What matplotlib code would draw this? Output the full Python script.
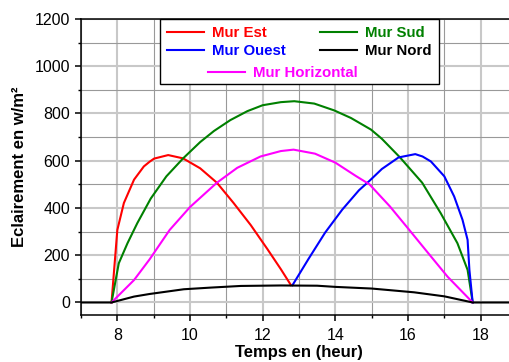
import numpy as np
import matplotlib
matplotlib.use("Agg")
import matplotlib.pyplot as plt
from matplotlib.lines import Line2D
from matplotlib.ticker import MultipleLocator

plt.rcParams['font.family'] = ['Liberation Sans', 'DejaVu Sans']
plt.rcParams['lines.solid_joinstyle'] = 'round'

# Mur Est (matin)
t_est = [7.84, 8.0, 8.18, 8.46, 8.73, 8.89, 9.01, 9.4, 9.81, 10.28, 10.74,
         11.2, 11.67, 12.13, 12.5, 12.78]
v_est = [0, 307, 421, 520, 576, 596, 609, 624, 610, 568, 507,
         421, 328, 226, 141, 73]

# Mur Ouest (après-midi)
t_ouest = [12.82, 13.26, 13.72, 14.19, 14.65, 14.94, 15.28, 15.74, 16.2, 16.4,
           16.63, 17.0, 17.27, 17.5, 17.64, 17.69, 17.78]
v_ouest = [73, 184, 296, 393, 475, 515, 565, 614, 628, 618,
           597, 534, 449, 350, 265, 138, 0]

# Mur Sud
t_sud = [7.84, 8.04, 8.28, 8.55, 8.92, 9.35, 9.81, 10.28, 10.66, 11.11, 11.58,
         12.0, 12.5, 12.87, 13.42, 13.97, 14.43, 14.98, 15.28, 15.78, 16.39,
         16.9, 17.36, 17.64, 17.78]
v_sud = [0, 166, 251, 336, 440, 534, 610, 679, 726, 772, 810,
         835, 848, 852, 842, 813, 781, 732, 693, 614, 507,
         378, 251, 138, 0]

# Mur Nord
t_nord = [7.0, 7.84, 8.46, 8.89, 9.83, 10.57, 11.4, 12.5, 13.5, 14.0, 15.0,
          16.17, 17.0, 17.78, 19.0]
v_nord = [0, 0, 25, 36, 56, 63, 70, 72, 71, 66, 59,
          43, 26, 0, 0]

# Mur Horizontal
t_hor = [7.84, 8.46, 8.89, 9.44, 10.0, 10.74, 11.3, 11.94, 12.5, 12.85,
         13.44, 14.0, 14.56, 14.94, 15.5, 16.02, 16.54, 17.09, 17.78]
v_hor = [0, 95, 183, 307, 404, 507, 570, 618, 641, 647,
         630, 592, 536, 500, 407, 310, 212, 109, 0]

fig = plt.figure(figsize=(5.09, 3.62), dpi=100)
ax = fig.add_axes([81/509, 47/362, 436/509, 296/362])

lw = 1.5
l_est, = ax.plot(t_est, v_est, color='#ff0000', lw=lw, label='Mur Est')
l_sud, = ax.plot(t_sud, v_sud, color='#008000', lw=lw, label='Mur Sud')
l_ouest, = ax.plot(t_ouest, v_ouest, color='#0000ff', lw=lw, label='Mur Ouest')
l_hor, = ax.plot(t_hor, v_hor, color='#ff00ff', lw=lw, label='Mur Horizontal')
l_nord, = ax.plot(t_nord, v_nord, color='black', lw=lw, label='Mur Nord')

ax.set_xlim(7, 19)
ax.set_ylim(-53, 1200)
ax.xaxis.set_major_locator(MultipleLocator(2))
ax.xaxis.set_minor_locator(MultipleLocator(1))
ax.yaxis.set_major_locator(MultipleLocator(200))
ax.yaxis.set_minor_locator(MultipleLocator(100))

ax.set_axisbelow(True)
ax.grid(which='major', color='#c8c8c8', lw=1.5)
ax.grid(which='minor', color='#999999', lw=0.8)

for s in ['left', 'bottom', 'top']:
    ax.spines[s].set_linewidth(1.1)
ax.spines['right'].set_visible(False)

ax.tick_params(which='major', direction='out', length=4, width=1.1,
               labelsize=11.5, pad=4)
ax.tick_params(which='minor', direction='out', length=2.5, width=1)
ax.tick_params(axis='x', which='major', pad=5)

ax.set_xlabel('Temps en (heur)', fontsize=12, fontweight='bold', labelpad=2)
ax.set_ylabel('Eclairement en w/m²', fontsize=12, fontweight='bold', labelpad=5)

# legende : 2 colonnes + "Mur Horizontal" centré sur la 3e ligne
blank = Line2D([], [], color='none')
leg_prop = {'weight': 'bold', 'size': 10.8}
leg1 = ax.legend([l_est, l_ouest, blank, l_sud, l_nord, blank],
                 ['Mur Est', 'Mur Ouest', ' ', 'Mur Sud', 'Mur Nord', ' '],
                 ncol=2, loc='upper left', bbox_to_anchor=(0.181, 1.0),
                 borderaxespad=0, prop=leg_prop, handlelength=2.47,
                 handletextpad=0.53, columnspacing=2.33, labelspacing=0.3,
                 borderpad=0.45, fancybox=False, framealpha=1,
                 edgecolor='black')
leg1.get_frame().set_linewidth(1.0)
for txt, c in zip(leg1.get_texts(), ['#ff0000', '#0000ff', 'none', '#008000', 'black', 'none']):
    txt.set_color(c)
ax.add_artist(leg1)

leg2 = ax.legend([l_hor], ['Mur Horizontal'], loc='center',
                 bbox_to_anchor=(0.462, 0.8176), borderaxespad=0, borderpad=0,
                 prop=leg_prop, handlelength=2.47, handletextpad=0.53,
                 frameon=False, labelcolor='linecolor')

fig.savefig('out.png', dpi=100)
